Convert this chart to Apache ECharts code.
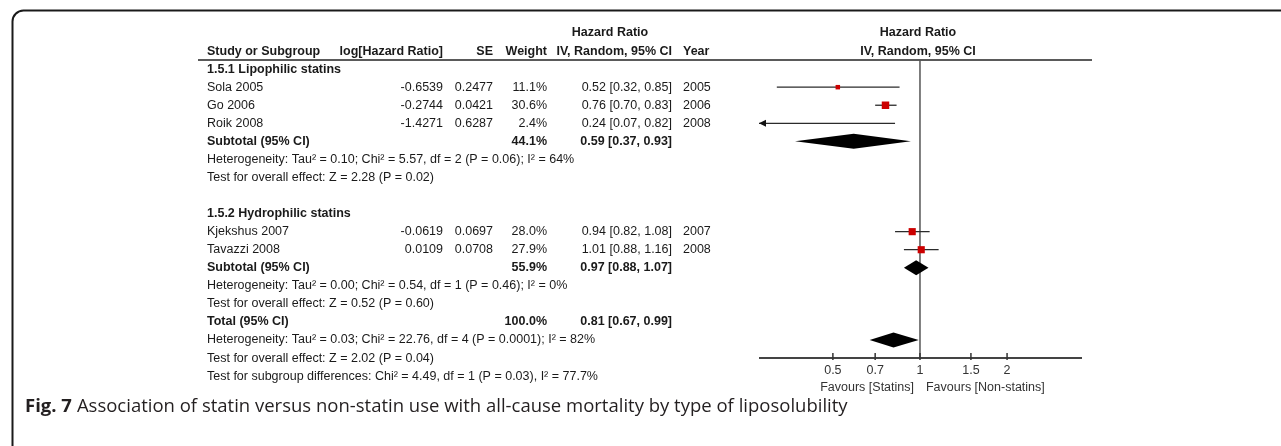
<!DOCTYPE html>
<html>
<head>
<meta charset="utf-8">
<script src="https://cdn.jsdelivr.net/npm/echarts@6/dist/echarts.min.js"></script>
<style>
html,body{margin:0;padding:0;background:#fff;}
#chart{width:1281px;height:446px;}
</style>
</head>
<body>
<div id="chart"></div>
<script>
// ---------------- DATA ----------------
const groupNames = ['1.5.1 Lipophilic statins', '1.5.2 Hydrophilic statins'];
const groupRows = [0, 8];

const studies = ['Sola 2005', 'Go 2006', 'Roik 2008', 'Kjekshus 2007', 'Tavazzi 2008'];
const studyRows = [1, 2, 3, 9, 10];
const logHR = ['-0.6539', '-0.2744', '-1.4271', '-0.0619', '0.0109'];
const seVals = ['0.2477', '0.0421', '0.6287', '0.0697', '0.0708'];
const weights = [11.1, 30.6, 2.4, 28.0, 27.9];
const hr = [0.52, 0.76, 0.24, 0.94, 1.01];
const hrLow = [0.32, 0.70, 0.07, 0.82, 0.88];
const hrHigh = [0.85, 0.83, 0.82, 1.08, 1.16];
const years = ['2005', '2006', '2008', '2007', '2008'];

const pooledNames = ['Subtotal (95% CI)', 'Subtotal (95% CI)', 'Total (95% CI)'];
const pooledRows = [4, 11, 14];
const pooledDiamondRows = [4, 11, 15];
const pooledWeights = [44.1, 55.9, 100.0];
const pooledHR = [0.59, 0.97, 0.81];
const pooledLow = [0.37, 0.88, 0.67];
const pooledHigh = [0.93, 1.07, 0.99];

const notes = [
  'Heterogeneity: Tau\u00b2 = 0.10; Chi\u00b2 = 5.57, df = 2 (P = 0.06); I\u00b2 = 64%',
  'Test for overall effect: Z = 2.28 (P = 0.02)',
  'Heterogeneity: Tau\u00b2 = 0.00; Chi\u00b2 = 0.54, df = 1 (P = 0.46); I\u00b2 = 0%',
  'Test for overall effect: Z = 0.52 (P = 0.60)',
  'Heterogeneity: Tau\u00b2 = 0.03; Chi\u00b2 = 22.76, df = 4 (P = 0.0001); I\u00b2 = 82%',
  'Test for overall effect: Z = 2.02 (P = 0.04)',
  'Test for subgroup differences: Chi\u00b2 = 4.49, df = 1 (P = 0.03), I\u00b2 = 77.7%'
];
const noteRows = [5, 6, 12, 13, 15, 16, 17];

const tickValues = [0.5, 0.7, 1, 1.5, 2];
const tickLabels = ['0.5', '0.7', '1', '1.5', '2'];
const favoursLeft = 'Favours [Statins]';
const favoursRight = 'Favours [Non-statins]';
const axisMin = 0.2777, axisMax = 3.631;
const axisRow = 16;

const caption = 'Association of statin versus non-statin use with all-cause mortality by type of liposolubility';
const captionLabel = 'Fig. 7';

// ---------------- LAYOUT ----------------
const FONT = '"Liberation Sans", Arial, sans-serif';
const FS = '12.5px ';
const TXT = '#1a1a1a';
const col = { study: 207, loghr: 443, se: 493, weight: 547, ci: 672, ciHead: 610, year: 683 };

function fmt2(v) { return v.toFixed(2); }
function ciText(e, l, h) { return fmt2(e) + ' [' + fmt2(l) + ', ' + fmt2(h) + ']'; }

const cells = [];
function cell(x, row, text, align, bold) { cells.push({ x, row, text, align, bold }); }
// headers
cell(col.ciHead, -2, 'Hazard Ratio', 'center', true);
cell(col.study, -1, 'Study or Subgroup', 'left', true);
cell(col.loghr, -1, 'log[Hazard Ratio]', 'right', true);
cell(col.se, -1, 'SE', 'right', true);
cell(col.weight, -1, 'Weight', 'right', true);
cell(col.ci, -1, 'IV, Random, 95% CI', 'right', true);
cell(col.year, -1, 'Year', 'left', true);
groupNames.forEach((g, i) => cell(col.study, groupRows[i], g, 'left', true));
studies.forEach((s, i) => {
  const r = studyRows[i];
  cell(col.study, r, s, 'left', false);
  cell(col.loghr, r, logHR[i], 'right', false);
  cell(col.se, r, seVals[i], 'right', false);
  cell(col.weight, r, weights[i].toFixed(1) + '%', 'right', false);
  cell(col.ci, r, ciText(hr[i], hrLow[i], hrHigh[i]), 'right', false);
  cell(col.year, r, years[i], 'left', false);
});
pooledNames.forEach((p, i) => {
  const r = pooledRows[i];
  cell(col.study, r, p, 'left', true);
  cell(col.weight, r, pooledWeights[i].toFixed(1) + '%', 'right', true);
  cell(col.ci, r, ciText(pooledHR[i], pooledLow[i], pooledHigh[i]), 'right', true);
});
notes.forEach((n, i) => cell(col.study, noteRows[i], n, 'left', false));

const ROW_TOP = 33, ROW_H = 18.06, Y_MIN = -2, Y_MAX = 18;
const gridH = ROW_H * (Y_MAX - Y_MIN);

function textEl(x, y, text, align, font, fill) {
  return {
    type: 'text', x: x, y: y,
    style: { text: text, font: font, fill: fill || TXT, align: align, verticalAlign: 'middle',
             textAlign: align, textVerticalAlign: 'middle' },
    silent: true
  };
}

const chart = echarts.init(document.getElementById('chart'), null, { renderer: 'canvas' });

const option = {
  animation: false,
  backgroundColor: '#ffffff',
  title: {
    left: 25, top: 397, padding: 0,
    text: '{b|' + captionLabel + '} {r|' + caption + '}',
    textStyle: {
      rich: {
        b: { fontFamily: '"Open Sans", "Noto Sans", sans-serif', fontWeight: 'bold', fontSize: 18.5, color: '#231f20' },
        r: { fontFamily: '"Open Sans", "Noto Sans", sans-serif', fontWeight: 'normal', fontSize: 18.5, color: '#231f20' }
      }
    }
  },
  graphic: [{
    type: 'rect', left: 10, top: 8,
    shape: { x: 0, y: 0, width: 1320, height: 480, r: 11 },
    style: { fill: 'none', stroke: '#1a1a1a', lineWidth: 2 },
    silent: true
  }],
  grid: [
    { left: 0, top: ROW_TOP, width: 1281, height: gridH, containLabel: false },
    { left: 759, top: ROW_TOP, width: 323, height: gridH, containLabel: false }
  ],
  xAxis: [
    { gridIndex: 0, type: 'value', min: 0, max: 1281, show: false },
    { gridIndex: 1, type: 'log', logBase: 10, min: axisMin, max: axisMax, show: false }
  ],
  yAxis: [
    { gridIndex: 0, type: 'value', min: Y_MIN, max: Y_MAX, inverse: true, show: false },
    { gridIndex: 1, type: 'value', min: Y_MIN, max: Y_MAX, inverse: true, show: false }
  ],
  series: [
    // table text
    {
      type: 'custom', xAxisIndex: 0, yAxisIndex: 0, silent: true,
      data: cells.map((c, i) => [c.x, c.row, i]),
      renderItem: function (params, api) {
        const c = cells[api.value(2)];
        const p = api.coord([api.value(0), api.value(1)]);
        return textEl(p[0], p[1], c.text, c.align, (c.bold ? 'bold ' : '') + FS + FONT);
      }
    },
    // header underline
    {
      type: 'custom', xAxisIndex: 0, yAxisIndex: 0, silent: true,
      data: [[198, -0.5, 1092]],
      renderItem: function (params, api) {
        const a = api.coord([api.value(0), api.value(1)]);
        const b = api.coord([api.value(2), api.value(1)]);
        return { type: 'line', shape: { x1: a[0], y1: a[1], x2: b[0], y2: b[1] },
                 style: { stroke: '#5a5a5a', lineWidth: 2 } };
      }
    },
    // reference line, axis line, forest headers, favours labels
    {
      type: 'custom', xAxisIndex: 1, yAxisIndex: 1, silent: true,
      data: [[1, axisRow]],
      renderItem: function (params, api) {
        const top = api.coord([1, -0.5]);
        const bot = api.coord([1, api.value(1)]);
        const l = api.coord([axisMin, api.value(1)]);
        const r = api.coord([axisMax, api.value(1)]);
        const h1 = api.coord([1, -2]);
        const h2 = api.coord([1, -1]);
        return { type: 'group', children: [
          { type: 'line', shape: { x1: top[0], y1: top[1], x2: bot[0], y2: bot[1] },
            style: { stroke: '#555', lineWidth: 1.5 } },
          { type: 'line', shape: { x1: l[0], y1: l[1], x2: r[0], y2: r[1] },
            style: { stroke: '#444', lineWidth: 2 } },
          textEl(h1[0] - 2, h1[1], 'Hazard Ratio', 'center', 'bold ' + FS + FONT),
          textEl(h2[0] - 2, h2[1], 'IV, Random, 95% CI', 'center', 'bold ' + FS + FONT),
          textEl(bot[0] - 6, bot[1] + 29, favoursLeft, 'right', FS + FONT, '#333'),
          textEl(bot[0] + 6, bot[1] + 29, favoursRight, 'left', FS + FONT, '#333')
        ] };
      }
    },
    // ticks
    {
      type: 'custom', xAxisIndex: 1, yAxisIndex: 1, silent: true,
      data: tickValues.map((v, i) => [v, axisRow, i]),
      renderItem: function (params, api) {
        const p = api.coord([api.value(0), api.value(1)]);
        return { type: 'group', children: [
          { type: 'line', shape: { x1: p[0], y1: p[1] - 5, x2: p[0], y2: p[1] + 2 },
            style: { stroke: '#333', lineWidth: 1.5 } },
          textEl(p[0], p[1] + 12, tickLabels[api.value(2)], 'center', FS + FONT, '#333')
        ] };
      }
    },
    // study CIs and squares
    {
      type: 'custom', xAxisIndex: 1, yAxisIndex: 1, silent: true,
      data: studies.map((s, i) => [hr[i], studyRows[i], hrLow[i], hrHigh[i], weights[i]]),
      renderItem: function (params, api) {
        const y = api.value(1), est = api.value(0), lo = api.value(2), hi = api.value(3), w = api.value(4);
        const a = api.coord([Math.max(lo, axisMin), y]);
        const b = api.coord([Math.min(hi, axisMax), y]);
        const ch = [{ type: 'line', shape: { x1: a[0], y1: a[1], x2: b[0], y2: b[1] },
                      style: { stroke: '#2b2b2b', lineWidth: 1.3 } }];
        if (lo < axisMin) {
          ch.push({ type: 'polygon', shape: { points: [[a[0], a[1]], [a[0] + 7, a[1] - 3.5], [a[0] + 7, a[1] + 3.5]] },
                    style: { fill: '#111' } });
        }
        if (est >= axisMin && est <= axisMax) {
          const p = api.coord([est, y]);
          const s = 1.35 * Math.sqrt(w);
          ch.push({ type: 'rect', shape: { x: p[0] - s / 2, y: p[1] - s / 2, width: s, height: s },
                    style: { fill: '#cc0000' } });
        }
        return { type: 'group', children: ch };
      }
    },
    // pooled diamonds
    {
      type: 'custom', xAxisIndex: 1, yAxisIndex: 1, silent: true,
      data: pooledHR.map((e, i) => [e, pooledDiamondRows[i], pooledLow[i], pooledHigh[i]]),
      renderItem: function (params, api) {
        const y = api.value(1);
        const c = api.coord([api.value(0), y]);
        const l = api.coord([api.value(2), y]);
        const r = api.coord([api.value(3), y]);
        return { type: 'polygon',
                 shape: { points: [[l[0], l[1]], [c[0], c[1] - 7.5], [r[0], r[1]], [c[0], c[1] + 7.5]] },
                 style: { fill: '#000' } };
      }
    }
  ]
};
chart.setOption(option);
</script>
</body>
</html>
